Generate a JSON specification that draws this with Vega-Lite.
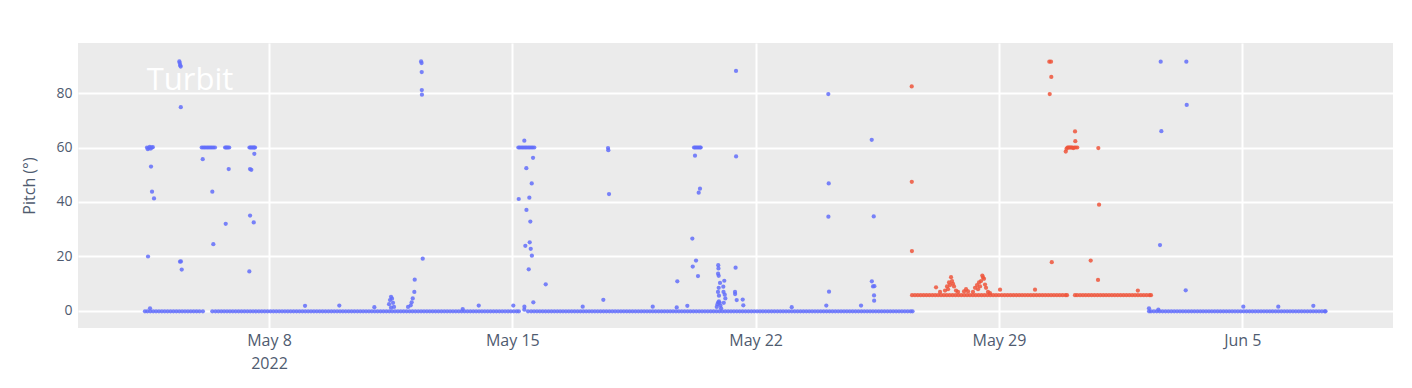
{
"$schema": "https://vega.github.io/schema/vega-lite/v6.json",
"width": 1315, "height": 285,
"autosize": {"type": "none"},
"padding": {"left": 78, "top": 43, "right": 19, "bottom": 60},
"background": "white",
"config": {"view": {"fill": "#ebebeb", "stroke": null}, "font": "Open Sans"},
"datasets": {
"base": [
{"t":"2022-05-04T10:20","p":-0.1,"s":"A"},{"t":"2022-05-04T12:00","p":-0.1,"s":"A"},{"t":"2022-05-04T14:00","p":-0.1,"s":"A"},{"t":"2022-05-04T16:00","p":-0.1,"s":"A"},{"t":"2022-05-04T18:00","p":-0.1,"s":"A"},{"t":"2022-05-04T20:00","p":-0.1,"s":"A"},{"t":"2022-05-04T22:00","p":-0.1,"s":"A"},
{"t":"2022-05-05T00:00","p":-0.1,"s":"A"},{"t":"2022-05-05T02:00","p":-0.1,"s":"A"},{"t":"2022-05-05T04:00","p":-0.1,"s":"A"},{"t":"2022-05-05T06:00","p":-0.1,"s":"A"},{"t":"2022-05-05T08:00","p":-0.1,"s":"A"},{"t":"2022-05-05T10:00","p":-0.1,"s":"A"},{"t":"2022-05-05T12:00","p":-0.1,"s":"A"},{"t":"2022-05-05T14:00","p":-0.1,"s":"A"},{"t":"2022-05-05T16:00","p":-0.1,"s":"A"},{"t":"2022-05-05T18:00","p":-0.1,"s":"A"},{"t":"2022-05-05T20:00","p":-0.1,"s":"A"},{"t":"2022-05-05T22:00","p":-0.1,"s":"A"},
{"t":"2022-05-06T00:00","p":-0.1,"s":"A"},{"t":"2022-05-06T02:20","p":-0.1,"s":"A"},
{"t":"2022-05-06T08:50","p":-0.1,"s":"A"},{"t":"2022-05-06T11:00","p":-0.1,"s":"A"},{"t":"2022-05-06T13:00","p":-0.1,"s":"A"},{"t":"2022-05-06T15:00","p":-0.1,"s":"A"},{"t":"2022-05-06T17:00","p":-0.1,"s":"A"},{"t":"2022-05-06T19:00","p":-0.1,"s":"A"},{"t":"2022-05-06T21:00","p":-0.1,"s":"A"},{"t":"2022-05-06T23:00","p":-0.1,"s":"A"},
{"t":"2022-05-07T01:00","p":-0.1,"s":"A"},{"t":"2022-05-07T03:00","p":-0.1,"s":"A"},{"t":"2022-05-07T05:00","p":-0.1,"s":"A"},{"t":"2022-05-07T07:00","p":-0.1,"s":"A"},{"t":"2022-05-07T09:00","p":-0.1,"s":"A"},{"t":"2022-05-07T11:00","p":-0.1,"s":"A"},{"t":"2022-05-07T13:00","p":-0.1,"s":"A"},{"t":"2022-05-07T15:00","p":-0.1,"s":"A"},{"t":"2022-05-07T17:00","p":-0.1,"s":"A"},{"t":"2022-05-07T19:00","p":-0.1,"s":"A"},{"t":"2022-05-07T21:00","p":-0.1,"s":"A"},{"t":"2022-05-07T23:00","p":-0.1,"s":"A"},
{"t":"2022-05-08T01:00","p":-0.1,"s":"A"},{"t":"2022-05-08T03:00","p":-0.1,"s":"A"},{"t":"2022-05-08T05:00","p":-0.1,"s":"A"},{"t":"2022-05-08T07:00","p":-0.1,"s":"A"},{"t":"2022-05-08T09:00","p":-0.1,"s":"A"},{"t":"2022-05-08T11:00","p":-0.1,"s":"A"},{"t":"2022-05-08T13:00","p":-0.1,"s":"A"},{"t":"2022-05-08T15:00","p":-0.1,"s":"A"},{"t":"2022-05-08T17:00","p":-0.1,"s":"A"},{"t":"2022-05-08T19:00","p":-0.1,"s":"A"},{"t":"2022-05-08T21:00","p":-0.1,"s":"A"},{"t":"2022-05-08T23:00","p":-0.1,"s":"A"},
{"t":"2022-05-09T01:00","p":-0.1,"s":"A"},{"t":"2022-05-09T03:00","p":-0.1,"s":"A"},{"t":"2022-05-09T05:00","p":-0.1,"s":"A"},{"t":"2022-05-09T07:00","p":-0.1,"s":"A"},{"t":"2022-05-09T09:00","p":-0.1,"s":"A"},{"t":"2022-05-09T11:00","p":-0.1,"s":"A"},{"t":"2022-05-09T13:00","p":-0.1,"s":"A"},{"t":"2022-05-09T15:00","p":-0.1,"s":"A"},{"t":"2022-05-09T17:00","p":-0.1,"s":"A"},{"t":"2022-05-09T19:00","p":-0.1,"s":"A"},{"t":"2022-05-09T21:00","p":-0.1,"s":"A"},{"t":"2022-05-09T23:00","p":-0.1,"s":"A"},
{"t":"2022-05-10T01:00","p":-0.1,"s":"A"},{"t":"2022-05-10T03:00","p":-0.1,"s":"A"},{"t":"2022-05-10T05:00","p":-0.1,"s":"A"},{"t":"2022-05-10T07:00","p":-0.1,"s":"A"},{"t":"2022-05-10T09:00","p":-0.1,"s":"A"},{"t":"2022-05-10T11:00","p":-0.1,"s":"A"},{"t":"2022-05-10T13:00","p":-0.1,"s":"A"},{"t":"2022-05-10T15:00","p":-0.1,"s":"A"},{"t":"2022-05-10T17:00","p":-0.1,"s":"A"},{"t":"2022-05-10T19:00","p":-0.1,"s":"A"},{"t":"2022-05-10T21:00","p":-0.1,"s":"A"},{"t":"2022-05-10T23:00","p":-0.1,"s":"A"},
{"t":"2022-05-11T01:00","p":-0.1,"s":"A"},{"t":"2022-05-11T03:00","p":-0.1,"s":"A"},{"t":"2022-05-11T05:00","p":-0.1,"s":"A"},{"t":"2022-05-11T07:00","p":-0.1,"s":"A"},{"t":"2022-05-11T09:00","p":-0.1,"s":"A"},{"t":"2022-05-11T11:00","p":-0.1,"s":"A"},{"t":"2022-05-11T13:00","p":-0.1,"s":"A"},{"t":"2022-05-11T15:00","p":-0.1,"s":"A"},{"t":"2022-05-11T17:00","p":-0.1,"s":"A"},{"t":"2022-05-11T19:00","p":-0.1,"s":"A"},{"t":"2022-05-11T21:00","p":-0.1,"s":"A"},{"t":"2022-05-11T23:00","p":-0.1,"s":"A"},
{"t":"2022-05-12T01:00","p":-0.1,"s":"A"},{"t":"2022-05-12T03:00","p":-0.1,"s":"A"},{"t":"2022-05-12T05:00","p":-0.1,"s":"A"},{"t":"2022-05-12T07:00","p":-0.1,"s":"A"},{"t":"2022-05-12T09:00","p":-0.1,"s":"A"},{"t":"2022-05-12T11:00","p":-0.1,"s":"A"},{"t":"2022-05-12T13:00","p":-0.1,"s":"A"},{"t":"2022-05-12T15:00","p":-0.1,"s":"A"},{"t":"2022-05-12T17:00","p":-0.1,"s":"A"},{"t":"2022-05-12T19:00","p":-0.1,"s":"A"},{"t":"2022-05-12T21:00","p":-0.1,"s":"A"},{"t":"2022-05-12T23:00","p":-0.1,"s":"A"},
{"t":"2022-05-13T01:00","p":-0.1,"s":"A"},{"t":"2022-05-13T03:00","p":-0.1,"s":"A"},{"t":"2022-05-13T05:00","p":-0.1,"s":"A"},{"t":"2022-05-13T07:00","p":-0.1,"s":"A"},{"t":"2022-05-13T09:00","p":-0.1,"s":"A"},{"t":"2022-05-13T11:00","p":-0.1,"s":"A"},{"t":"2022-05-13T13:00","p":-0.1,"s":"A"},{"t":"2022-05-13T15:00","p":-0.1,"s":"A"},{"t":"2022-05-13T17:00","p":-0.1,"s":"A"},{"t":"2022-05-13T19:00","p":-0.1,"s":"A"},{"t":"2022-05-13T21:00","p":-0.1,"s":"A"},{"t":"2022-05-13T23:00","p":-0.1,"s":"A"},
{"t":"2022-05-14T01:00","p":-0.1,"s":"A"},{"t":"2022-05-14T03:00","p":-0.1,"s":"A"},{"t":"2022-05-14T05:00","p":-0.1,"s":"A"},{"t":"2022-05-14T07:00","p":-0.1,"s":"A"},{"t":"2022-05-14T09:00","p":-0.1,"s":"A"},{"t":"2022-05-14T11:00","p":-0.1,"s":"A"},{"t":"2022-05-14T13:00","p":-0.1,"s":"A"},{"t":"2022-05-14T15:00","p":-0.1,"s":"A"},{"t":"2022-05-14T17:00","p":-0.1,"s":"A"},{"t":"2022-05-14T19:00","p":-0.1,"s":"A"},{"t":"2022-05-14T21:00","p":-0.1,"s":"A"},{"t":"2022-05-14T23:00","p":-0.1,"s":"A"},
{"t":"2022-05-15T01:00","p":-0.1,"s":"A"},{"t":"2022-05-15T03:00","p":-0.1,"s":"A"},{"t":"2022-05-15T04:30","p":-0.1,"s":"A"},
{"t":"2022-05-15T10:50","p":-0.1,"s":"A"},{"t":"2022-05-15T13:00","p":-0.1,"s":"A"},{"t":"2022-05-15T15:00","p":-0.1,"s":"A"},{"t":"2022-05-15T17:00","p":-0.1,"s":"A"},{"t":"2022-05-15T19:00","p":-0.1,"s":"A"},{"t":"2022-05-15T21:00","p":-0.1,"s":"A"},{"t":"2022-05-15T23:00","p":-0.1,"s":"A"},
{"t":"2022-05-16T01:00","p":-0.1,"s":"A"},{"t":"2022-05-16T03:00","p":-0.1,"s":"A"},{"t":"2022-05-16T05:00","p":-0.1,"s":"A"},{"t":"2022-05-16T07:00","p":-0.1,"s":"A"},{"t":"2022-05-16T09:00","p":-0.1,"s":"A"},{"t":"2022-05-16T11:00","p":-0.1,"s":"A"},{"t":"2022-05-16T13:00","p":-0.1,"s":"A"},{"t":"2022-05-16T15:00","p":-0.1,"s":"A"},{"t":"2022-05-16T17:00","p":-0.1,"s":"A"},{"t":"2022-05-16T19:00","p":-0.1,"s":"A"},{"t":"2022-05-16T21:00","p":-0.1,"s":"A"},{"t":"2022-05-16T23:00","p":-0.1,"s":"A"},
{"t":"2022-05-17T01:00","p":-0.1,"s":"A"},{"t":"2022-05-17T03:00","p":-0.1,"s":"A"},{"t":"2022-05-17T05:00","p":-0.1,"s":"A"},{"t":"2022-05-17T07:00","p":-0.1,"s":"A"},{"t":"2022-05-17T09:00","p":-0.1,"s":"A"},{"t":"2022-05-17T11:00","p":-0.1,"s":"A"},{"t":"2022-05-17T13:00","p":-0.1,"s":"A"},{"t":"2022-05-17T15:00","p":-0.1,"s":"A"},{"t":"2022-05-17T17:00","p":-0.1,"s":"A"},{"t":"2022-05-17T19:00","p":-0.1,"s":"A"},{"t":"2022-05-17T21:00","p":-0.1,"s":"A"},{"t":"2022-05-17T23:00","p":-0.1,"s":"A"},
{"t":"2022-05-18T01:00","p":-0.1,"s":"A"},{"t":"2022-05-18T03:00","p":-0.1,"s":"A"},{"t":"2022-05-18T05:00","p":-0.1,"s":"A"},{"t":"2022-05-18T07:00","p":-0.1,"s":"A"},{"t":"2022-05-18T09:00","p":-0.1,"s":"A"},{"t":"2022-05-18T11:00","p":-0.1,"s":"A"},{"t":"2022-05-18T13:00","p":-0.1,"s":"A"},{"t":"2022-05-18T15:00","p":-0.1,"s":"A"},{"t":"2022-05-18T17:00","p":-0.1,"s":"A"},{"t":"2022-05-18T19:00","p":-0.1,"s":"A"},{"t":"2022-05-18T21:00","p":-0.1,"s":"A"},{"t":"2022-05-18T23:00","p":-0.1,"s":"A"},
{"t":"2022-05-19T01:00","p":-0.1,"s":"A"},{"t":"2022-05-19T03:00","p":-0.1,"s":"A"},{"t":"2022-05-19T05:00","p":-0.1,"s":"A"},{"t":"2022-05-19T07:00","p":-0.1,"s":"A"},{"t":"2022-05-19T09:00","p":-0.1,"s":"A"},{"t":"2022-05-19T11:00","p":-0.1,"s":"A"},{"t":"2022-05-19T13:00","p":-0.1,"s":"A"},{"t":"2022-05-19T15:00","p":-0.1,"s":"A"},{"t":"2022-05-19T17:00","p":-0.1,"s":"A"},{"t":"2022-05-19T19:00","p":-0.1,"s":"A"},{"t":"2022-05-19T21:00","p":-0.1,"s":"A"},{"t":"2022-05-19T23:00","p":-0.1,"s":"A"},
{"t":"2022-05-20T01:00","p":-0.1,"s":"A"},{"t":"2022-05-20T03:00","p":-0.1,"s":"A"},{"t":"2022-05-20T05:00","p":-0.1,"s":"A"},{"t":"2022-05-20T07:00","p":-0.1,"s":"A"},{"t":"2022-05-20T09:00","p":-0.1,"s":"A"},{"t":"2022-05-20T11:00","p":-0.1,"s":"A"},{"t":"2022-05-20T13:00","p":-0.1,"s":"A"},{"t":"2022-05-20T15:00","p":-0.1,"s":"A"},{"t":"2022-05-20T17:00","p":-0.1,"s":"A"},{"t":"2022-05-20T19:00","p":-0.1,"s":"A"},{"t":"2022-05-20T21:00","p":-0.1,"s":"A"},{"t":"2022-05-20T23:00","p":-0.1,"s":"A"},
{"t":"2022-05-21T01:00","p":-0.1,"s":"A"},{"t":"2022-05-21T03:00","p":-0.1,"s":"A"},{"t":"2022-05-21T05:00","p":-0.1,"s":"A"},{"t":"2022-05-21T07:00","p":-0.1,"s":"A"},{"t":"2022-05-21T09:00","p":-0.1,"s":"A"},{"t":"2022-05-21T11:00","p":-0.1,"s":"A"},{"t":"2022-05-21T13:00","p":-0.1,"s":"A"},{"t":"2022-05-21T15:00","p":-0.1,"s":"A"},{"t":"2022-05-21T17:00","p":-0.1,"s":"A"},{"t":"2022-05-21T19:00","p":-0.1,"s":"A"},{"t":"2022-05-21T21:00","p":-0.1,"s":"A"},{"t":"2022-05-21T23:00","p":-0.1,"s":"A"},
{"t":"2022-05-22T01:00","p":-0.1,"s":"A"},{"t":"2022-05-22T03:00","p":-0.1,"s":"A"},{"t":"2022-05-22T05:00","p":-0.1,"s":"A"},{"t":"2022-05-22T07:00","p":-0.1,"s":"A"},{"t":"2022-05-22T09:00","p":-0.1,"s":"A"},{"t":"2022-05-22T11:00","p":-0.1,"s":"A"},{"t":"2022-05-22T13:00","p":-0.1,"s":"A"},{"t":"2022-05-22T15:00","p":-0.1,"s":"A"},{"t":"2022-05-22T17:00","p":-0.1,"s":"A"},{"t":"2022-05-22T19:00","p":-0.1,"s":"A"},{"t":"2022-05-22T21:00","p":-0.1,"s":"A"},{"t":"2022-05-22T23:00","p":-0.1,"s":"A"},
{"t":"2022-05-23T01:00","p":-0.1,"s":"A"},{"t":"2022-05-23T03:00","p":-0.1,"s":"A"},{"t":"2022-05-23T05:00","p":-0.1,"s":"A"},{"t":"2022-05-23T07:00","p":-0.1,"s":"A"},{"t":"2022-05-23T09:00","p":-0.1,"s":"A"},{"t":"2022-05-23T11:00","p":-0.1,"s":"A"},{"t":"2022-05-23T13:00","p":-0.1,"s":"A"},{"t":"2022-05-23T15:00","p":-0.1,"s":"A"},{"t":"2022-05-23T17:00","p":-0.1,"s":"A"},{"t":"2022-05-23T19:00","p":-0.1,"s":"A"},{"t":"2022-05-23T21:00","p":-0.1,"s":"A"},{"t":"2022-05-23T23:00","p":-0.1,"s":"A"},
{"t":"2022-05-24T01:00","p":-0.1,"s":"A"},{"t":"2022-05-24T03:00","p":-0.1,"s":"A"},{"t":"2022-05-24T05:00","p":-0.1,"s":"A"},{"t":"2022-05-24T07:00","p":-0.1,"s":"A"},{"t":"2022-05-24T09:00","p":-0.1,"s":"A"},{"t":"2022-05-24T11:00","p":-0.1,"s":"A"},{"t":"2022-05-24T13:00","p":-0.1,"s":"A"},{"t":"2022-05-24T15:00","p":-0.1,"s":"A"},{"t":"2022-05-24T17:00","p":-0.1,"s":"A"},{"t":"2022-05-24T19:00","p":-0.1,"s":"A"},{"t":"2022-05-24T21:00","p":-0.1,"s":"A"},{"t":"2022-05-24T23:00","p":-0.1,"s":"A"},
{"t":"2022-05-25T01:00","p":-0.1,"s":"A"},{"t":"2022-05-25T03:00","p":-0.1,"s":"A"},{"t":"2022-05-25T05:00","p":-0.1,"s":"A"},{"t":"2022-05-25T07:00","p":-0.1,"s":"A"},{"t":"2022-05-25T09:00","p":-0.1,"s":"A"},{"t":"2022-05-25T11:00","p":-0.1,"s":"A"},{"t":"2022-05-25T13:00","p":-0.1,"s":"A"},{"t":"2022-05-25T15:00","p":-0.1,"s":"A"},{"t":"2022-05-25T17:00","p":-0.1,"s":"A"},{"t":"2022-05-25T19:00","p":-0.1,"s":"A"},{"t":"2022-05-25T21:00","p":-0.1,"s":"A"},{"t":"2022-05-25T23:00","p":-0.1,"s":"A"},
{"t":"2022-05-26T01:00","p":-0.1,"s":"A"},{"t":"2022-05-26T03:00","p":-0.1,"s":"A"},{"t":"2022-05-26T05:00","p":-0.1,"s":"A"},{"t":"2022-05-26T07:00","p":-0.1,"s":"A"},{"t":"2022-05-26T09:00","p":-0.1,"s":"A"},{"t":"2022-05-26T11:00","p":-0.1,"s":"A"},{"t":"2022-05-26T12:20","p":-0.1,"s":"A"},
{"t":"2022-05-26T12:00","p":5.8,"s":"B"},{"t":"2022-05-26T14:00","p":5.8,"s":"B"},{"t":"2022-05-26T16:00","p":5.8,"s":"B"},{"t":"2022-05-26T18:00","p":5.8,"s":"B"},{"t":"2022-05-26T20:00","p":5.8,"s":"B"},{"t":"2022-05-26T22:00","p":5.8,"s":"B"},
{"t":"2022-05-27T00:00","p":5.8,"s":"B"},{"t":"2022-05-27T02:00","p":5.8,"s":"B"},{"t":"2022-05-27T04:00","p":5.8,"s":"B"},{"t":"2022-05-27T06:00","p":5.8,"s":"B"},{"t":"2022-05-27T08:00","p":5.8,"s":"B"},{"t":"2022-05-27T10:00","p":5.8,"s":"B"},{"t":"2022-05-27T12:00","p":5.8,"s":"B"},{"t":"2022-05-27T14:00","p":5.8,"s":"B"},{"t":"2022-05-27T16:00","p":5.8,"s":"B"},{"t":"2022-05-27T18:00","p":5.8,"s":"B"},{"t":"2022-05-27T20:00","p":5.8,"s":"B"},{"t":"2022-05-27T22:00","p":5.8,"s":"B"},
{"t":"2022-05-28T00:00","p":5.8,"s":"B"},{"t":"2022-05-28T02:00","p":5.8,"s":"B"},{"t":"2022-05-28T04:00","p":5.8,"s":"B"},{"t":"2022-05-28T06:00","p":5.8,"s":"B"},{"t":"2022-05-28T08:00","p":5.8,"s":"B"},{"t":"2022-05-28T10:00","p":5.8,"s":"B"},{"t":"2022-05-28T12:00","p":5.8,"s":"B"},{"t":"2022-05-28T14:00","p":5.8,"s":"B"},{"t":"2022-05-28T16:00","p":5.8,"s":"B"},{"t":"2022-05-28T18:00","p":5.8,"s":"B"},{"t":"2022-05-28T20:00","p":5.8,"s":"B"},{"t":"2022-05-28T22:00","p":5.8,"s":"B"},
{"t":"2022-05-29T00:00","p":5.8,"s":"B"},{"t":"2022-05-29T02:00","p":5.8,"s":"B"},{"t":"2022-05-29T04:00","p":5.8,"s":"B"},{"t":"2022-05-29T06:00","p":5.8,"s":"B"},{"t":"2022-05-29T08:00","p":5.8,"s":"B"},{"t":"2022-05-29T10:00","p":5.8,"s":"B"},{"t":"2022-05-29T12:00","p":5.8,"s":"B"},{"t":"2022-05-29T14:00","p":5.8,"s":"B"},{"t":"2022-05-29T16:00","p":5.8,"s":"B"},{"t":"2022-05-29T18:00","p":5.8,"s":"B"},{"t":"2022-05-29T20:00","p":5.8,"s":"B"},{"t":"2022-05-29T22:00","p":5.8,"s":"B"},
{"t":"2022-05-30T00:00","p":5.8,"s":"B"},{"t":"2022-05-30T02:00","p":5.8,"s":"B"},{"t":"2022-05-30T04:00","p":5.8,"s":"B"},{"t":"2022-05-30T06:00","p":5.8,"s":"B"},{"t":"2022-05-30T08:00","p":5.8,"s":"B"},{"t":"2022-05-30T10:00","p":5.8,"s":"B"},{"t":"2022-05-30T12:00","p":5.8,"s":"B"},{"t":"2022-05-30T14:00","p":5.8,"s":"B"},{"t":"2022-05-30T16:00","p":5.8,"s":"B"},{"t":"2022-05-30T18:00","p":5.8,"s":"B"},{"t":"2022-05-30T20:00","p":5.8,"s":"B"},{"t":"2022-05-30T22:00","p":5.8,"s":"B"},{"t":"2022-05-30T23:00","p":5.8,"s":"B"},
{"t":"2022-05-31T04:30","p":5.8,"s":"B"},{"t":"2022-05-31T06:00","p":5.8,"s":"B"},{"t":"2022-05-31T08:00","p":5.8,"s":"B"},{"t":"2022-05-31T10:00","p":5.8,"s":"B"},{"t":"2022-05-31T12:00","p":5.8,"s":"B"},{"t":"2022-05-31T14:00","p":5.8,"s":"B"},{"t":"2022-05-31T16:00","p":5.8,"s":"B"},{"t":"2022-05-31T18:00","p":5.8,"s":"B"},{"t":"2022-05-31T20:00","p":5.8,"s":"B"},{"t":"2022-05-31T22:00","p":5.8,"s":"B"},
{"t":"2022-06-01T00:00","p":5.8,"s":"B"},{"t":"2022-06-01T02:00","p":5.8,"s":"B"},{"t":"2022-06-01T04:00","p":5.8,"s":"B"},{"t":"2022-06-01T06:00","p":5.8,"s":"B"},{"t":"2022-06-01T08:00","p":5.8,"s":"B"},{"t":"2022-06-01T10:00","p":5.8,"s":"B"},{"t":"2022-06-01T12:00","p":5.8,"s":"B"},{"t":"2022-06-01T14:00","p":5.8,"s":"B"},{"t":"2022-06-01T16:00","p":5.8,"s":"B"},{"t":"2022-06-01T18:00","p":5.8,"s":"B"},{"t":"2022-06-01T20:00","p":5.8,"s":"B"},{"t":"2022-06-01T22:00","p":5.8,"s":"B"},
{"t":"2022-06-02T00:00","p":5.8,"s":"B"},{"t":"2022-06-02T02:00","p":5.8,"s":"B"},{"t":"2022-06-02T04:00","p":5.8,"s":"B"},{"t":"2022-06-02T06:00","p":5.8,"s":"B"},{"t":"2022-06-02T08:00","p":5.8,"s":"B"},{"t":"2022-06-02T09:00","p":5.8,"s":"B"},
{"t":"2022-06-02T07:40","p":-0.1,"s":"A"},{"t":"2022-06-02T09:00","p":-0.1,"s":"A"},{"t":"2022-06-02T11:00","p":-0.1,"s":"A"},{"t":"2022-06-02T13:00","p":-0.1,"s":"A"},{"t":"2022-06-02T15:00","p":-0.1,"s":"A"},{"t":"2022-06-02T17:00","p":-0.1,"s":"A"},{"t":"2022-06-02T19:00","p":-0.1,"s":"A"},{"t":"2022-06-02T21:00","p":-0.1,"s":"A"},{"t":"2022-06-02T23:00","p":-0.1,"s":"A"},
{"t":"2022-06-03T01:00","p":-0.1,"s":"A"},{"t":"2022-06-03T03:00","p":-0.1,"s":"A"},{"t":"2022-06-03T05:00","p":-0.1,"s":"A"},{"t":"2022-06-03T07:00","p":-0.1,"s":"A"},{"t":"2022-06-03T09:00","p":-0.1,"s":"A"},{"t":"2022-06-03T11:00","p":-0.1,"s":"A"},{"t":"2022-06-03T13:00","p":-0.1,"s":"A"},{"t":"2022-06-03T15:00","p":-0.1,"s":"A"},{"t":"2022-06-03T17:00","p":-0.1,"s":"A"},{"t":"2022-06-03T19:00","p":-0.1,"s":"A"},{"t":"2022-06-03T21:00","p":-0.1,"s":"A"},{"t":"2022-06-03T23:00","p":-0.1,"s":"A"},
{"t":"2022-06-04T01:00","p":-0.1,"s":"A"},{"t":"2022-06-04T03:00","p":-0.1,"s":"A"},{"t":"2022-06-04T05:00","p":-0.1,"s":"A"},{"t":"2022-06-04T07:00","p":-0.1,"s":"A"},{"t":"2022-06-04T09:00","p":-0.1,"s":"A"},{"t":"2022-06-04T11:00","p":-0.1,"s":"A"},{"t":"2022-06-04T13:00","p":-0.1,"s":"A"},{"t":"2022-06-04T15:00","p":-0.1,"s":"A"},{"t":"2022-06-04T17:00","p":-0.1,"s":"A"},{"t":"2022-06-04T19:00","p":-0.1,"s":"A"},{"t":"2022-06-04T21:00","p":-0.1,"s":"A"},{"t":"2022-06-04T23:00","p":-0.1,"s":"A"},
{"t":"2022-06-05T01:00","p":-0.1,"s":"A"},{"t":"2022-06-05T03:00","p":-0.1,"s":"A"},{"t":"2022-06-05T05:00","p":-0.1,"s":"A"},{"t":"2022-06-05T07:00","p":-0.1,"s":"A"},{"t":"2022-06-05T09:00","p":-0.1,"s":"A"},{"t":"2022-06-05T11:00","p":-0.1,"s":"A"},{"t":"2022-06-05T13:00","p":-0.1,"s":"A"},{"t":"2022-06-05T15:00","p":-0.1,"s":"A"},{"t":"2022-06-05T17:00","p":-0.1,"s":"A"},{"t":"2022-06-05T19:00","p":-0.1,"s":"A"},{"t":"2022-06-05T21:00","p":-0.1,"s":"A"},{"t":"2022-06-05T23:00","p":-0.1,"s":"A"},
{"t":"2022-06-06T01:00","p":-0.1,"s":"A"},{"t":"2022-06-06T03:00","p":-0.1,"s":"A"},{"t":"2022-06-06T05:00","p":-0.1,"s":"A"},{"t":"2022-06-06T07:00","p":-0.1,"s":"A"},{"t":"2022-06-06T09:00","p":-0.1,"s":"A"},{"t":"2022-06-06T11:00","p":-0.1,"s":"A"},{"t":"2022-06-06T13:00","p":-0.1,"s":"A"},{"t":"2022-06-06T15:00","p":-0.1,"s":"A"},{"t":"2022-06-06T17:00","p":-0.1,"s":"A"},{"t":"2022-06-06T19:00","p":-0.1,"s":"A"},{"t":"2022-06-06T21:00","p":-0.1,"s":"A"},{"t":"2022-06-06T23:00","p":-0.1,"s":"A"},
{"t":"2022-06-07T01:00","p":-0.1,"s":"A"},{"t":"2022-06-07T03:00","p":-0.1,"s":"A"},{"t":"2022-06-07T05:00","p":-0.1,"s":"A"},{"t":"2022-06-07T07:00","p":-0.1,"s":"A"},{"t":"2022-06-07T09:00","p":-0.1,"s":"A"},{"t":"2022-06-07T09:30","p":-0.1,"s":"A"}
],
"out": [
{"t":"2022-05-04T11:45","p":60,"s":"A"},{"t":"2022-05-04T12:20","p":59.4,"s":"A"},{"t":"2022-05-04T13:00","p":59.8,"s":"A"},{"t":"2022-05-04T13:40","p":60.2,"s":"A"},{"t":"2022-05-04T14:20","p":59.6,"s":"A"},{"t":"2022-05-04T15:00","p":60,"s":"A"},{"t":"2022-05-04T15:45","p":60.1,"s":"A"},
{"t":"2022-05-04T14:31","p":53,"s":"A"},{"t":"2022-05-04T15:13","p":43.8,"s":"A"},{"t":"2022-05-04T16:35","p":41.3,"s":"A"},{"t":"2022-05-04T12:27","p":20,"s":"A"},{"t":"2022-05-04T13:50","p":1,"s":"A"},
{"t":"2022-05-05T10:04","p":91.6,"s":"A"},{"t":"2022-05-05T10:20","p":91,"s":"A"},{"t":"2022-05-05T10:40","p":90.2,"s":"A"},{"t":"2022-05-05T11:00","p":89.7,"s":"A"},{"t":"2022-05-05T11:05","p":74.8,"s":"A"},
{"t":"2022-05-05T10:33","p":18.1,"s":"A"},{"t":"2022-05-05T11:10","p":18.2,"s":"A"},{"t":"2022-05-05T11:43","p":15.2,"s":"A"},
{"t":"2022-05-06T01:30","p":60,"s":"A"},{"t":"2022-05-06T02:30","p":60,"s":"A"},{"t":"2022-05-06T03:30","p":60,"s":"A"},{"t":"2022-05-06T04:30","p":60,"s":"A"},{"t":"2022-05-06T05:30","p":60,"s":"A"},{"t":"2022-05-06T06:30","p":60,"s":"A"},{"t":"2022-05-06T07:30","p":60,"s":"A"},{"t":"2022-05-06T08:30","p":60,"s":"A"},{"t":"2022-05-06T09:30","p":60,"s":"A"},{"t":"2022-05-06T10:40","p":60,"s":"A"},
{"t":"2022-05-06T02:13","p":55.7,"s":"A"},{"t":"2022-05-06T08:51","p":43.8,"s":"A"},{"t":"2022-05-06T09:32","p":24.5,"s":"A"},
{"t":"2022-05-06T17:40","p":60,"s":"A"},{"t":"2022-05-06T18:20","p":60,"s":"A"},{"t":"2022-05-06T19:00","p":60,"s":"A"},{"t":"2022-05-06T19:40","p":60,"s":"A"},{"t":"2022-05-06T20:30","p":60,"s":"A"},
{"t":"2022-05-06T20:10","p":52.1,"s":"A"},{"t":"2022-05-06T18:06","p":32,"s":"A"},
{"t":"2022-05-07T10:30","p":60,"s":"A"},{"t":"2022-05-07T11:10","p":60,"s":"A"},{"t":"2022-05-07T11:50","p":60,"s":"A"},{"t":"2022-05-07T12:30","p":60,"s":"A"},{"t":"2022-05-07T13:10","p":60,"s":"A"},{"t":"2022-05-07T13:50","p":60,"s":"A"},{"t":"2022-05-07T14:20","p":60,"s":"A"},
{"t":"2022-05-07T13:51","p":57.7,"s":"A"},{"t":"2022-05-07T10:53","p":52.1,"s":"A"},{"t":"2022-05-07T11:47","p":51.8,"s":"A"},{"t":"2022-05-07T10:55","p":35,"s":"A"},{"t":"2022-05-07T13:26","p":32.5,"s":"A"},{"t":"2022-05-07T10:24","p":14.5,"s":"A"},
{"t":"2022-05-09T00:52","p":1.9,"s":"A"},{"t":"2022-05-10T00:32","p":2,"s":"A"},{"t":"2022-05-11T00:43","p":1.4,"s":"A"},
{"t":"2022-05-11T10:52","p":2.5,"s":"A"},{"t":"2022-05-11T11:33","p":4,"s":"A"},{"t":"2022-05-11T12:15","p":5.2,"s":"A"},{"t":"2022-05-11T12:56","p":4.5,"s":"A"},{"t":"2022-05-11T13:37","p":3,"s":"A"},{"t":"2022-05-11T14:19","p":1.5,"s":"A"},{"t":"2022-05-11T12:15","p":1.2,"s":"A"},
{"t":"2022-05-12T00:00","p":1.5,"s":"A"},{"t":"2022-05-12T01:51","p":2.1,"s":"A"},{"t":"2022-05-12T02:30","p":3.2,"s":"A"},{"t":"2022-05-12T03:14","p":4.6,"s":"A"},{"t":"2022-05-12T04:20","p":7,"s":"A"},{"t":"2022-05-12T04:36","p":11.5,"s":"A"},
{"t":"2022-05-12T09:00","p":91.6,"s":"A"},{"t":"2022-05-12T09:20","p":91,"s":"A"},{"t":"2022-05-12T09:26","p":87.7,"s":"A"},{"t":"2022-05-12T09:30","p":81.1,"s":"A"},{"t":"2022-05-12T09:35","p":79.4,"s":"A"},{"t":"2022-05-12T10:08","p":19.2,"s":"A"},
{"t":"2022-05-13T13:45","p":0.7,"s":"A"},{"t":"2022-05-14T00:48","p":2,"s":"A"},{"t":"2022-05-15T00:41","p":2,"s":"A"},
{"t":"2022-05-15T04:10","p":60,"s":"A"},{"t":"2022-05-15T05:00","p":60,"s":"A"},{"t":"2022-05-15T06:00","p":60,"s":"A"},{"t":"2022-05-15T07:00","p":60,"s":"A"},{"t":"2022-05-15T08:00","p":60,"s":"A"},{"t":"2022-05-15T09:00","p":60,"s":"A"},{"t":"2022-05-15T10:00","p":60,"s":"A"},{"t":"2022-05-15T11:00","p":60,"s":"A"},{"t":"2022-05-15T12:00","p":60,"s":"A"},{"t":"2022-05-15T13:00","p":60,"s":"A"},{"t":"2022-05-15T14:00","p":60,"s":"A"},{"t":"2022-05-15T15:10","p":60,"s":"A"},
{"t":"2022-05-15T08:17","p":62.5,"s":"A"},{"t":"2022-05-15T14:18","p":56.2,"s":"A"},{"t":"2022-05-15T09:40","p":52.4,"s":"A"},{"t":"2022-05-15T13:24","p":46.8,"s":"A"},{"t":"2022-05-15T04:25","p":41.1,"s":"A"},{"t":"2022-05-15T11:45","p":41.6,"s":"A"},{"t":"2022-05-15T09:45","p":37.1,"s":"A"},{"t":"2022-05-15T12:26","p":32.8,"s":"A"},{"t":"2022-05-15T12:01","p":25.2,"s":"A"},{"t":"2022-05-15T08:59","p":23.9,"s":"A"},{"t":"2022-05-15T12:43","p":22.8,"s":"A"},{"t":"2022-05-15T13:30","p":20.3,"s":"A"},{"t":"2022-05-15T11:20","p":15.3,"s":"A"},{"t":"2022-05-15T23:04","p":9.8,"s":"A"},{"t":"2022-05-15T14:30","p":3.2,"s":"A"},{"t":"2022-05-15T08:17","p":0.5,"s":"A"},{"t":"2022-05-15T08:20","p":1.6,"s":"A"},
{"t":"2022-05-17T00:36","p":1.6,"s":"A"},{"t":"2022-05-17T14:50","p":4.1,"s":"A"},{"t":"2022-05-17T18:05","p":59.8,"s":"A"},{"t":"2022-05-17T18:17","p":59,"s":"A"},{"t":"2022-05-17T18:46","p":42.9,"s":"A"},
{"t":"2022-05-19T00:57","p":1.6,"s":"A"},{"t":"2022-05-19T17:55","p":10.9,"s":"A"},{"t":"2022-05-19T17:30","p":1.3,"s":"A"},{"t":"2022-05-20T00:50","p":1.9,"s":"A"},
{"t":"2022-05-20T04:18","p":26.6,"s":"A"},{"t":"2022-05-20T06:50","p":18.5,"s":"A"},{"t":"2022-05-20T04:34","p":16.3,"s":"A"},{"t":"2022-05-20T08:12","p":12.8,"s":"A"},
{"t":"2022-05-20T05:27","p":60,"s":"A"},{"t":"2022-05-20T06:10","p":60,"s":"A"},{"t":"2022-05-20T07:00","p":60,"s":"A"},{"t":"2022-05-20T07:50","p":60,"s":"A"},{"t":"2022-05-20T08:40","p":60,"s":"A"},{"t":"2022-05-20T09:35","p":60,"s":"A"},{"t":"2022-05-20T10:04","p":60,"s":"A"},
{"t":"2022-05-20T06:08","p":57,"s":"A"},{"t":"2022-05-20T09:35","p":44.9,"s":"A"},{"t":"2022-05-20T08:41","p":43.4,"s":"A"},
{"t":"2022-05-20T22:10","p":16.8,"s":"A"},{"t":"2022-05-20T22:20","p":15.6,"s":"A"},{"t":"2022-05-20T22:05","p":13.7,"s":"A"},{"t":"2022-05-20T22:30","p":12.9,"s":"A"},{"t":"2022-05-20T23:25","p":10.3,"s":"A"},{"t":"2022-05-20T22:31","p":8.5,"s":"A"},{"t":"2022-05-20T22:00","p":7,"s":"A"},{"t":"2022-05-20T22:40","p":5.6,"s":"A"},
{"t":"2022-05-20T21:10","p":1.5,"s":"A"},{"t":"2022-05-20T21:40","p":2.5,"s":"A"},{"t":"2022-05-20T22:10","p":3.2,"s":"A"},{"t":"2022-05-20T22:40","p":3.5,"s":"A"},{"t":"2022-05-20T23:10","p":3,"s":"A"},{"t":"2022-05-20T23:40","p":2,"s":"A"},{"t":"2022-05-21T00:10","p":1,"s":"A"},
{"t":"2022-05-21T02:22","p":11.1,"s":"A"},{"t":"2022-05-21T01:41","p":8.9,"s":"A"},{"t":"2022-05-21T01:50","p":7,"s":"A"},{"t":"2022-05-21T02:40","p":6,"s":"A"},{"t":"2022-05-21T03:05","p":4.6,"s":"A"},{"t":"2022-05-21T02:00","p":3,"s":"A"},
{"t":"2022-05-21T10:27","p":88.1,"s":"A"},{"t":"2022-05-21T10:30","p":56.7,"s":"A"},{"t":"2022-05-21T10:10","p":15.9,"s":"A"},{"t":"2022-05-21T09:46","p":7,"s":"A"},{"t":"2022-05-21T09:50","p":6.2,"s":"A"},{"t":"2022-05-21T10:56","p":4,"s":"A"},{"t":"2022-05-21T15:04","p":4.2,"s":"A"},{"t":"2022-05-21T15:29","p":2.1,"s":"A"},
{"t":"2022-05-23T00:55","p":1.4,"s":"A"},{"t":"2022-05-24T00:48","p":2,"s":"A"},{"t":"2022-05-24T02:11","p":79.6,"s":"A"},{"t":"2022-05-24T02:28","p":46.8,"s":"A"},{"t":"2022-05-24T02:15","p":34.6,"s":"A"},{"t":"2022-05-24T02:40","p":7.1,"s":"A"},
{"t":"2022-05-25T00:47","p":2,"s":"A"},{"t":"2022-05-25T08:10","p":62.8,"s":"A"},{"t":"2022-05-25T09:33","p":34.7,"s":"A"},{"t":"2022-05-25T08:15","p":10.9,"s":"A"},{"t":"2022-05-25T09:04","p":9,"s":"A"},{"t":"2022-05-25T09:59","p":9.1,"s":"A"},{"t":"2022-05-25T09:46","p":5.7,"s":"A"},{"t":"2022-05-25T09:50","p":3.8,"s":"A"},
{"t":"2022-05-26T11:46","p":82.4,"s":"B"},{"t":"2022-05-26T11:50","p":47.4,"s":"B"},{"t":"2022-05-26T11:55","p":22,"s":"B"},
{"t":"2022-05-27T04:34","p":8.7,"s":"B"},{"t":"2022-05-27T07:20","p":7,"s":"B"},{"t":"2022-05-27T10:47","p":7.5,"s":"B"},{"t":"2022-05-27T12:10","p":9,"s":"B"},{"t":"2022-05-27T12:51","p":8,"s":"B"},{"t":"2022-05-27T13:32","p":10.5,"s":"B"},{"t":"2022-05-27T14:14","p":9.5,"s":"B"},{"t":"2022-05-27T14:56","p":12.4,"s":"B"},{"t":"2022-05-27T15:37","p":11,"s":"B"},{"t":"2022-05-27T16:18","p":10,"s":"B"},{"t":"2022-05-27T17:00","p":9,"s":"B"},{"t":"2022-05-27T18:22","p":7.5,"s":"B"},{"t":"2022-05-27T19:45","p":7,"s":"B"},
{"t":"2022-05-27T23:54","p":7.2,"s":"B"},{"t":"2022-05-28T01:17","p":8,"s":"B"},{"t":"2022-05-28T02:40","p":7.2,"s":"B"},
{"t":"2022-05-28T06:05","p":7,"s":"B"},{"t":"2022-05-28T07:29","p":8.5,"s":"B"},{"t":"2022-05-28T08:52","p":9.5,"s":"B"},{"t":"2022-05-28T09:34","p":8,"s":"B"},{"t":"2022-05-28T10:15","p":10.5,"s":"B"},{"t":"2022-05-28T10:57","p":9,"s":"B"},{"t":"2022-05-28T11:38","p":11,"s":"B"},{"t":"2022-05-28T12:32","p":13,"s":"B"},{"t":"2022-05-28T13:00","p":12.3,"s":"B"},{"t":"2022-05-28T13:42","p":11.8,"s":"B"},{"t":"2022-05-28T14:23","p":9.7,"s":"B"},{"t":"2022-05-28T15:05","p":8.5,"s":"B"},{"t":"2022-05-28T16:28","p":7,"s":"B"},{"t":"2022-05-28T17:50","p":6.6,"s":"B"},
{"t":"2022-05-29T00:46","p":7.8,"s":"B"},{"t":"2022-05-30T00:55","p":7.8,"s":"B"},
{"t":"2022-05-30T10:48","p":91.5,"s":"B"},{"t":"2022-05-30T11:58","p":91.5,"s":"B"},{"t":"2022-05-30T12:10","p":85.9,"s":"B"},{"t":"2022-05-30T11:04","p":79.6,"s":"B"},{"t":"2022-05-30T12:29","p":17.9,"s":"B"},
{"t":"2022-05-30T22:08","p":58.5,"s":"B"},{"t":"2022-05-30T22:40","p":59.5,"s":"B"},{"t":"2022-05-30T23:20","p":60,"s":"B"},{"t":"2022-05-31T00:00","p":60,"s":"B"},{"t":"2022-05-31T00:40","p":60,"s":"B"},{"t":"2022-05-31T01:20","p":60,"s":"B"},{"t":"2022-05-31T02:00","p":60,"s":"B"},{"t":"2022-05-31T02:40","p":60,"s":"B"},{"t":"2022-05-31T03:20","p":59.8,"s":"B"},{"t":"2022-05-31T04:00","p":60,"s":"B"},{"t":"2022-05-31T05:00","p":60,"s":"B"},{"t":"2022-05-31T06:06","p":60,"s":"B"},
{"t":"2022-05-31T04:33","p":65.9,"s":"B"},{"t":"2022-05-31T04:43","p":62.3,"s":"B"},{"t":"2022-05-31T20:38","p":59.8,"s":"B"},{"t":"2022-05-31T21:08","p":39,"s":"B"},{"t":"2022-05-31T15:22","p":18.5,"s":"B"},{"t":"2022-05-31T20:25","p":11.4,"s":"B"},{"t":"2022-06-01T23:56","p":7.5,"s":"B"},
{"t":"2022-06-02T15:42","p":91.5,"s":"A"},{"t":"2022-06-03T09:24","p":91.5,"s":"A"},{"t":"2022-06-03T09:40","p":75.6,"s":"A"},{"t":"2022-06-02T16:08","p":66,"s":"A"},{"t":"2022-06-02T15:13","p":24.2,"s":"A"},{"t":"2022-06-03T08:58","p":7.6,"s":"A"},
{"t":"2022-06-02T07:37","p":1,"s":"A"},{"t":"2022-06-02T14:04","p":0.5,"s":"A"},{"t":"2022-06-05T00:44","p":1.6,"s":"A"},{"t":"2022-06-06T00:53","p":1.6,"s":"A"},{"t":"2022-06-07T01:05","p":1.9,"s":"A"}
],
"logo": [{"t":"2022-05-04T11:34","p":81,"label":"Turbit"}]
},
"encoding": {
"x": {"field": "t", "type": "temporal",
"scale": {"domain": [{"year": 2022, "month": 5, "date": 2, "hours": 12, "minutes": 6}, {"year": 2022, "month": 6, "date": 9, "hours": 8, "minutes": 6}]},
"axis": {"title": null, "values": [{"year": 2022, "month": 5, "date": 8}, {"year": 2022, "month": 5, "date": 15}, {"year": 2022, "month": 5, "date": 22}, {"year": 2022, "month": 5, "date": 29}, {"year": 2022, "month": 6, "date": 5}],
"labelExpr": "timeFormat(datum.value, '%b %-d') == 'May 8' ? ['May 8', '2022'] : timeFormat(datum.value, '%b %-d')",
"grid": true, "gridColor": "white", "gridWidth": 2, "gridOpacity": 1, "domain": false, "ticks": false,
"labelFont": "Open Sans", "labelFontSize": 16, "labelColor": "#4f5b70", "labelPadding": 4, "labelLineHeight": 23, "labelFlush": false}},
"y": {"field": "p", "type": "quantitative",
"scale": {"domain": [-6.24, 98.35], "nice": false, "zero": false},
"axis": {"title": "Pitch (°)", "values": [0, 20, 40, 60, 80],
"grid": true, "gridColor": "white", "gridWidth": 2, "gridOpacity": 1, "domain": false, "ticks": false,
"labelFont": "Open Sans", "labelFontSize": 14, "labelColor": "#4f5b70", "labelPadding": 6,
"titleFont": "Open Sans", "titleFontSize": 16, "titleFontWeight": "normal", "titleColor": "#4f5b70", "titlePadding": 18}}
},
"layer": [
{
"data": {"name": "logo"},
"mark": {"type": "text", "align": "left", "baseline": "alphabetic", "font": "Open Sans", "fontSize": 31, "fontWeight": 400, "fill": "#ffffff", "opacity": 1},
"encoding": {
"text": {"field": "label"}
}
},
{
"data": {"name": "base"},
"mark": {"type": "circle", "size": 18, "opacity": 0.85},
"encoding": {
"color": {"field": "s", "type": "nominal", "scale": {"domain": ["A", "B"], "range": ["#636efa", "#ef553b"]}, "legend": null}
}
},
{
"data": {"name": "out"},
"mark": {"type": "circle", "size": 18, "opacity": 0.85},
"encoding": {
"color": {"field": "s", "type": "nominal", "scale": {"domain": ["A", "B"], "range": ["#636efa", "#ef553b"]}, "legend": null}
}
}
]
}
